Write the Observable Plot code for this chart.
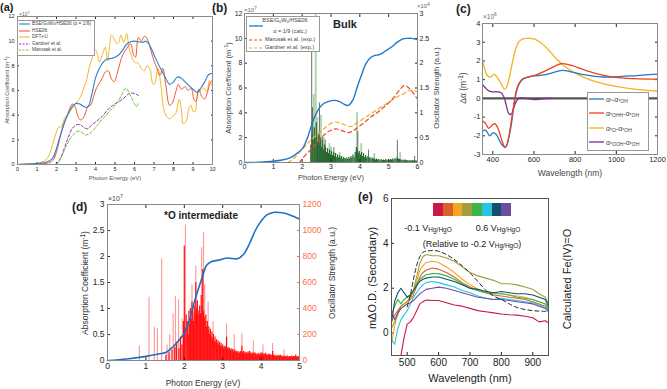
<!DOCTYPE html>
<html><head><meta charset="utf-8">
<script src="https://cdn.jsdelivr.net/npm/d3@7"></script>
<script src="https://cdn.jsdelivr.net/npm/@observablehq/plot@0.6"></script>
<style>
body{margin:0;background:#fff;}
#fig{position:relative;width:667px;height:389px;overflow:hidden;font-family:"Liberation Sans",Arial,sans-serif;color:#222;}
.t{position:absolute;white-space:nowrap;line-height:1;}
.t sub{font-size:0.72em;vertical-align:-0.25em;line-height:0;}
.t sup{font-size:0.75em;vertical-align:0.5em;line-height:0;}
.box{position:absolute;background:#fff;border:1px solid #999;}
</style>
</head><body><div id="fig"></div>
<script>
// ---------- DATA ----------
// (a) absorption coefficient (x1e7 m^-1) vs photon energy (eV)
const aBSE = [[0,0],[0.5,0.03],[1,0.08],[1.5,0.2],[1.8,0.5],[2.0,1.3],[2.2,2.4],[2.4,3.4],[2.6,4.1],[2.8,4.7],[3.0,4.95],[3.2,4.9],[3.4,4.7],[3.6,4.65],[3.8,5.6],[4.0,7.0],[4.2,7.8],[4.4,8.3],[4.6,8.55],[4.8,8.6],[5.0,8.7],[5.2,8.9],[5.4,9.3],[5.6,9.75],[5.8,9.95],[6.0,10.0],[6.2,9.95],[6.4,9.9],[6.6,10.0],[6.8,9.6],[7.0,8.9],[7.2,8.2],[7.4,7.6],[7.6,7.0],[7.8,6.5],[8.0,6.7],[8.2,7.1],[8.4,7.0],[8.6,6.7],[8.8,6.4],[9.0,6.1],[9.2,5.85],[9.4,6.2],[9.6,6.7],[9.8,7.3],[10,7.4]];
const aHSE = [[0,0],[1,0.05],[1.5,0.1],[1.8,0.3],[2.0,1.0],[2.2,2.3],[2.4,3.3],[2.6,4.2],[2.8,4.9],[2.95,4.7],[3.1,3.9],[3.25,3.6],[3.45,4.0],[3.6,4.7],[3.75,4.8],[3.9,5.5],[4.05,6.2],[4.2,6.6],[4.35,7.0],[4.5,7.5],[4.65,7.6],[4.8,7.0],[4.95,6.7],[5.1,7.3],[5.25,8.2],[5.4,8.9],[5.6,9.4],[5.8,9.8],[5.95,8.9],[6.05,8.7],[6.2,10.3],[6.35,10.0],[6.5,10.4],[6.65,10.2],[6.85,9.2],[7.0,8.4],[7.15,7.8],[7.3,7.2],[7.45,7.8],[7.6,6.5],[7.8,4.8],[7.95,5.0],[8.1,5.8],[8.25,6.5],[8.4,6.1],[8.6,6.3],[8.75,6.0],[8.9,6.2],[9.05,5.3],[9.15,5.1],[9.3,6.1],[9.45,5.5],[9.6,5.3],[9.75,5.9],[9.9,6.7],[10,6.8]];
const aDFT = [[0,0],[0.5,0.05],[1,0.1],[1.4,0.3],[1.6,0.7],[1.8,1.6],[1.95,2.4],[2.1,3.0],[2.25,3.1],[2.4,3.7],[2.55,4.0],[2.7,4.3],[2.9,4.8],[3.05,5.1],[3.2,5.4],[3.4,6.2],[3.55,6.9],[3.7,8.0],[3.85,8.7],[4.0,9.3],[4.1,8.9],[4.2,8.3],[4.35,8.9],[4.5,9.5],[4.62,8.4],[4.72,9.6],[4.82,10.5],[4.95,10.2],[5.1,9.8],[5.2,9.9],[5.3,10.5],[5.45,9.9],[5.6,10.6],[5.7,9.6],[5.85,8.8],[6.0,8.3],[6.2,8.2],[6.35,7.8],[6.5,7.6],[6.65,8.0],[6.8,7.7],[6.95,6.5],[7.05,6.6],[7.2,7.8],[7.35,6.5],[7.5,4.5],[7.65,3.9],[7.8,3.7],[7.95,3.9],[8.1,4.1],[8.3,5.3],[8.4,4.5],[8.5,3.3],[8.65,3.5],[8.8,4.6],[8.9,4.8],[9.0,4.3],[9.1,4.3],[9.25,5.8],[9.4,6.0],[9.55,6.2],[9.7,5.9],[9.85,6.8],[10,6.3]];
const aGardner = [[2.0,0],[2.2,0.5],[2.4,1.3],[2.6,2.2],[2.8,2.9],[3.0,3.2],[3.2,3.25],[3.4,3.0],[3.6,2.9],[3.8,3.2],[4.0,3.45],[4.2,3.7],[4.4,4.0],[4.6,4.4],[4.8,4.7],[5.0,4.9],[5.2,5.1],[5.4,5.3],[5.6,5.6],[5.8,5.8],[6.0,5.75],[6.2,5.6]];
const aMarusak = [[1.9,0],[2.1,0.2],[2.3,0.8],[2.5,1.5],[2.7,2.1],[2.9,2.5],[3.1,2.7],[3.3,2.6],[3.5,2.4],[3.7,2.5],[3.9,2.8],[4.1,3.2],[4.3,3.6],[4.5,3.9],[4.7,4.3],[4.9,4.6],[5.1,5.0],[5.3,5.5],[5.45,6.0],[5.55,6.2],[5.7,5.9],[5.85,5.4],[6.0,4.9],[6.1,4.7],[6.2,5.0]];

// (b) bulk: absorption (x1e7) and oscillator strength (x1e4)
const bBSE = [[0,0],[0.5,0.02],[1.0,0.1],[1.3,0.2],[1.6,0.4],[1.8,0.7],[2.0,1.1],[2.1,1.5],[2.2,2.1],[2.3,2.8],[2.4,3.5],[2.5,4.0],[2.6,4.4],[2.75,4.75],[2.9,4.9],[3.1,5.0],[3.3,4.9],[3.45,4.7],[3.6,4.6],[3.75,5.0],[3.9,6.0],[4.05,7.0],[4.2,7.9],[4.35,8.4],[4.5,8.6],[4.7,8.7],[4.9,9.0],[5.1,9.3],[5.3,9.7],[5.5,9.95],[5.65,10.0],[5.8,10.0],[6.0,9.9]];
const bMarusak = [[1.9,0],[2.0,0.3],[2.2,0.8],[2.4,1.3],[2.6,1.8],[2.8,2.3],[3.0,2.6],[3.2,2.7],[3.4,2.55],[3.6,2.4],[3.8,2.6],[4.0,2.95],[4.2,3.3],[4.4,3.7],[4.6,4.0],[4.8,4.4],[5.0,4.8],[5.2,5.3],[5.4,5.9],[5.55,6.2],[5.7,6.0],[5.85,5.6],[6.0,5.1]];
const bGardner = [[1.5,0],[1.7,0.3],[1.9,0.8],[2.1,1.3],[2.3,1.8],[2.5,2.2],[2.7,2.6],[2.9,3.0],[3.1,3.25],[3.3,3.2],[3.5,3.0],[3.7,2.9],[3.9,3.2],[4.1,3.5],[4.3,3.8],[4.5,4.1],[4.7,4.4],[4.9,4.7],[5.1,5.0],[5.3,5.3],[5.5,5.5],[5.7,5.8],[5.85,5.8],[6.0,5.7]];
const bOscDense = [[2.30,.35],[2.34,.6],[2.38,.45],[2.42,.7],[2.45,.5],[2.49,.8],[2.53,.4],[2.56,.55],[2.6,.35],[2.63,.5],[2.67,.3],[2.7,.45],[2.74,.25],[2.77,.35],[2.81,.3],[2.84,.2],[2.88,.28],[2.91,.18],[2.95,.25],[2.98,.15],[3.02,.22],[3.05,.14],[3.09,.2],[3.12,.12],[3.16,.18],[3.2,.1],[3.23,.15],[3.27,.09],[3.3,.13],[3.34,.08],[3.37,.12],[3.41,.07],[3.44,.1],[3.48,.08],[3.51,.06],[3.55,.09],[3.58,.06],[3.62,.1],[3.65,.07],[3.69,.12],[3.72,.08],[3.76,.15],[3.8,.1],[3.84,.2],[3.88,.3],[3.91,.25],[3.95,.18],[3.98,.22],[4.02,.15],[4.06,.2],[4.1,.12],[4.13,.18],[4.17,.1],[4.2,.14],[4.24,.09],[4.28,.12],[4.32,.08],[4.35,.1],[4.39,.07],[4.43,.09],[4.47,.06],[4.5,.08],[4.54,.05],[4.58,.07],[4.62,.05],[4.66,.06],[4.7,.04],[4.74,.06],[4.78,.04],[4.82,.05],[4.86,.04],[4.9,.06],[4.94,.04],[4.98,.05],[5.02,.04],[5.06,.06],[5.1,.05],[5.14,.07],[5.18,.05],[5.22,.08],[5.26,.06],[5.3,.1],[5.34,.07],[5.38,.06],[5.42,.05],[5.46,.04],[5.5,.05],[5.54,.04],[5.58,.05],[5.62,.03],[5.66,.04],[5.7,.03],[5.74,.04],[5.78,.03],[5.82,.04],[5.86,.03],[5.9,.04],[5.94,.03],[5.98,.03]];
const bOscLight = [[2.40,1.37],[2.47,3.0],[2.52,0.9],[2.56,0.6],[2.65,0.95],[2.75,0.5],[2.95,0.38],[3.0,0.3],[3.3,0.2],[3.9,1.0],[4.05,0.38],[4.5,0.18],[5.4,0.2]];
const bOscGray = [[2.33,2.22],[2.36,1.1],[2.6,1.2],[2.7,0.5],[2.8,0.45],[3.1,0.3],[3.93,0.62],[4.3,0.25],[5.3,0.45],[5.9,0.12]];

// (c) difference absorption (x1e6 m^-1) vs wavelength (nm)
const cStar = [[350,-1.75],[365,-1.7],[385,-2.0],[400,-1.85],[415,-1.9],[430,-2.2],[445,-2.5],[460,-2.62],[470,-2.45],[480,-2.0],[490,-1.4],[500,-0.6],[510,0.1],[520,0.55],[535,0.9],[550,1.05],[575,1.15],[600,1.2],[650,1.25],[700,1.4],[740,1.5],[780,1.42],[850,1.25],[920,1.15],[1000,1.15],[1100,1.22],[1200,1.3]];
const cOHH = [[350,-1.2],[365,-1.35],[380,-1.6],[395,-1.45],[410,-1.35],[425,-1.6],[440,-2.1],[455,-2.55],[462,-2.6],[475,-2.2],[490,-1.2],[500,-0.5],[510,0.2],[525,0.75],[545,1.05],[575,1.15],[620,1.3],[680,1.6],[730,1.85],[770,1.8],[850,1.5],[950,1.2],[1050,1.07],[1200,1.03]];
const cO = [[350,2.05],[360,1.6],[375,1.2],[390,1.15],[405,1.3],[420,1.15],[440,0.8],[455,0.5],[465,0.55],[480,1.1],[495,1.9],[510,2.6],[525,3.0],[545,3.18],[570,3.2],[600,3.18],[630,3.0],[670,2.6],[710,2.1],[750,1.7],[800,1.35],[870,1.0],[950,0.75],[1050,0.55],[1200,0.38]];
const cOOH = [[350,0.75],[365,0.55],[380,0.4],[400,0.35],[420,0.35],[440,0.3],[455,0.05],[465,-0.35],[478,-0.82],[490,-0.85],[500,-0.55],[515,-0.15],[530,0.02],[560,0.0],[600,-0.07],[640,-0.03],[680,0]];

// (d) *O intermediate: absorption (x1e7) and oscillator strength (a.u.)
const dBSE = [[0,0],[0.5,0.03],[1.0,0.08],[1.3,0.12],[1.53,0.16],[1.7,0.26],[1.85,0.38],[2.0,0.52],[2.1,0.7],[2.2,0.95],[2.3,1.22],[2.4,1.45],[2.5,1.68],[2.58,1.83],[2.7,1.9],[2.9,1.93],[3.1,1.97],[3.4,1.96],[3.55,2.05],[3.7,2.25],[3.85,2.5],[4.0,2.68],[4.15,2.8],[4.35,2.85],[4.55,2.84],[4.75,2.8],[5,2.72]];
const dOscLight = [[0.83,110],[1.08,487],[1.22,256],[1.3,244],[1.41,782],[1.55,120],[1.62,200],[1.71,360],[1.77,492],[1.85,467],[1.95,320],[2.03,1043],[2.2,582],[2.3,725],[2.45,867],[2.5,982],[2.53,580],[2.62,450],[2.75,300],[3.1,282],[3.3,200],[3.5,205],[3.8,150],[4.05,120],[4.3,130],[4.6,80]];
const dOscDense = [[1.52,40],[1.6,60],[1.68,80],[1.75,100],[1.8,140],[1.86,90],[1.9,180],[1.94,120],[1.98,300],[2.0,880],[2.02,250],[2.05,350],[2.08,300],[2.1,200],[2.12,380],[2.14,280],[2.16,400],[2.18,320],[2.2,450],[2.22,380],[2.24,300],[2.26,420],[2.28,360],[2.3,600],[2.32,400],[2.34,460],[2.36,380],[2.38,350],[2.4,420],[2.42,360],[2.44,500],[2.46,420],[2.48,700],[2.5,380],[2.52,330],[2.54,300],[2.56,350],[2.58,260],[2.6,300],[2.62,230],[2.64,260],[2.66,200],[2.68,240],[2.7,180],[2.72,220],[2.74,170],[2.76,200],[2.78,150],[2.8,180],[2.82,140],[2.84,160],[2.86,130],[2.88,150],[2.9,120],[2.92,140],[2.94,110],[2.96,130],[2.98,100],[3.0,120],[3.02,95],[3.04,110],[3.06,90],[3.08,105],[3.1,180],[3.12,90],[3.14,100],[3.16,80],[3.18,95],[3.2,75],[3.22,90],[3.24,70],[3.26,85],[3.28,65],[3.3,80],[3.32,60],[3.34,75],[3.36,60],[3.38,70],[3.4,55],[3.42,65],[3.44,55],[3.46,70],[3.48,60],[3.5,110],[3.52,60],[3.54,70],[3.56,55],[3.58,65],[3.6,50],[3.62,60],[3.64,50],[3.66,65],[3.68,55],[3.7,70],[3.72,50],[3.74,60],[3.76,45],[3.78,55],[3.8,50],[3.82,60],[3.84,45],[3.86,55],[3.88,40],[3.9,50],[3.92,45],[3.94,55],[3.96,40],[3.98,50],[4.0,60],[4.02,45],[4.04,55],[4.06,40],[4.08,50],[4.1,45],[4.12,55],[4.14,40],[4.16,45],[4.18,35],[4.2,50],[4.22,40],[4.24,45],[4.26,35],[4.28,40],[4.3,70],[4.32,40],[4.34,35],[4.36,40],[4.38,30],[4.4,35],[4.42,30],[4.44,40],[4.46,30],[4.48,35],[4.5,40],[4.52,30],[4.54,35],[4.56,25],[4.58,30],[4.6,35],[4.62,25],[4.64,30],[4.66,25],[4.68,35],[4.7,30],[4.72,25],[4.74,30],[4.76,25],[4.78,30],[4.8,35],[4.82,25],[4.84,30],[4.86,25],[4.88,30],[4.9,40],[4.92,25],[4.94,30],[4.96,25],[4.98,30]];

// (e) mΔO.D. vs wavelength at potentials -0.1 ... 0.6 V
const eWl = [450,460,470,480,490,500,510,520,530,540,550,560,580,600,625,650,675,700,725,750,775,800,825,850,875,900,920,940,950];
const ePotentials = ["-0.1","0","0.1","0.2","0.3","0.4","0.5","0.6"];
const eColors = ["#c8194b","#d9622b","#f4a623","#a39e3b","#3bb54a","#27c4df","#10506e","#6d4fa1"];
const eSeries = [
  [null,null,-1.3,-1.0,-0.2,0.4,0.5,0.7,1.0,1.3,1.4,1.47,1.45,1.45,1.35,1.25,1.2,1.1,1.0,0.95,0.9,0.85,0.82,0.8,0.75,0.68,0.5,0.55,0.45],
  [0.5,0.8,1.0,1.2,1.3,1.4,1.5,1.7,2.1,2.5,2.7,2.8,2.9,2.85,2.7,2.5,2.25,2.05,1.9,1.8,1.7,1.65,1.6,1.55,1.5,1.4,1.3,1.2,1.05],
  [-0.5,0.3,0.9,1.1,1.2,1.3,1.5,1.8,2.3,2.8,3.0,3.15,3.2,3.15,2.95,2.7,2.4,2.15,1.95,1.85,1.8,1.75,1.7,1.65,1.6,1.5,1.4,1.3,1.15],
  [0.2,0.5,0.8,1.2,1.3,1.4,1.6,1.9,2.5,3.1,3.4,3.5,3.45,3.45,3.35,3.2,2.95,2.7,2.55,2.45,2.35,2.2,2.2,2.15,2.05,1.95,1.75,1.6,1.3],
  [0.8,1.2,1.5,1.3,1.5,1.6,1.7,1.9,2.2,2.4,2.5,2.6,2.65,2.65,2.55,2.4,2.2,2.0,1.9,1.8,1.75,1.75,1.7,1.6,1.55,1.5,1.4,1.3,1.1],
  [-0.3,-0.5,0.2,0.6,0.8,1.0,1.3,1.6,1.8,2.0,2.15,2.25,2.3,2.25,2.15,2.05,1.9,1.8,1.65,1.55,1.5,1.55,1.5,1.45,1.4,1.35,1.25,1.15,1.0],
  [0.5,1.4,1.8,2.0,1.8,1.6,1.7,1.9,2.1,2.3,2.4,2.45,2.5,2.5,2.4,2.3,2.15,2.0,1.95,1.85,1.8,1.85,1.8,1.75,1.75,1.7,1.6,1.5,1.2],
  [1.0,0.6,0.9,1.1,1.2,1.3,1.35,1.45,1.6,1.75,1.85,1.95,2.0,2.05,2.0,1.9,1.8,1.7,1.6,1.55,1.5,1.5,1.45,1.4,1.35,1.3,1.2,1.1,0.95]
];
const eCalc = [[500,1.17],[510,1.7],[520,2.4],[530,3.0],[540,3.4],[550,3.6],[560,3.65],[580,3.68],[600,3.65],[625,3.5],[650,3.28],[675,3.0],[700,2.68],[725,2.3],[750,1.92],[775,1.65],[800,1.5],[825,1.3],[850,1.14],[875,1.05],[900,1.0],[920,0.98],[940,0.97],[950,0.95]];

// ---------- HELPERS ----------
const fig = document.getElementById("fig");
const FONT = "Liberation Sans, Arial, Helvetica, sans-serif";
function panel(box, pad, opts) {
  const [x1,y1,x2,y2] = box, [l,t,r,b] = pad;
  const svg = Plot.plot({
    width: (x2-x1)+l+r, height: (y2-y1)+t+b,
    marginLeft:l, marginTop:t, marginRight:r, marginBottom:b,
    ...opts,
    style: {background:"transparent", overflow:"visible", fontFamily:FONT, color:"#262626", ...(opts.style||{})}
  });
  svg.style.position="absolute"; svg.style.left=(x1-l)+"px"; svg.style.top=(y1-t)+"px";
  fig.appendChild(svg);
}
function txt(html, x, y, o={}) {
  const d = document.createElement("div");
  d.className="t"; d.innerHTML=html;
  d.style.left=x+"px"; d.style.top=y+"px";
  d.style.fontSize=(o.size||8)+"px";
  if (o.bold) d.style.fontWeight="bold";
  d.style.color=o.color||"#222";
  const ax = o.anchor==="start"?"0":o.anchor==="end"?"-100%":"-50%";
  d.style.transform=`translate(${ax},-50%)`+(o.rot?" rotate(-90deg)":"");
  fig.appendChild(d);
}
function box(x,y,w,h){const d=document.createElement("div");d.className="box";Object.assign(d.style,{left:x+"px",top:y+"px",width:w+"px",height:h+"px"});fig.appendChild(d);}
function swatch(x1,x2,y,color,dash,w){
  const s=document.createElementNS("http://www.w3.org/2000/svg","svg");
  s.setAttribute("width",x2-x1);s.setAttribute("height",4);
  Object.assign(s.style,{position:"absolute",left:x1+"px",top:(y-2)+"px"});
  s.innerHTML=`<line x1="0" x2="${x2-x1}" y1="2" y2="2" stroke="${color}" stroke-width="${w||1.2}" ${dash?`stroke-dasharray="${dash}"`:""}/>`;
  fig.appendChild(s);
}
const X = d=>d[0], Y = d=>d[1];
const plain = d=>String(d);
function mirror(xt, yt, ts) {
  return [
    Plot.axisX(xt,{anchor:"top",tickSize:ts,tickFormat:()=>"",label:null}),
    Plot.axisY(yt,{anchor:"right",tickSize:ts,tickFormat:()=>"",label:null})
  ];
}

// ---------- (a) ----------
{
  const xt=d3.range(0,11), yt=d3.range(0,13,2);
  panel([17,16,212,164],[14,8,8,14],{
    x:{domain:[0,10]}, y:{domain:[0,12]}, style:{fontSize:"5.5px"},
    marks:[
      Plot.axisX(xt,{tickSize:-2,tickPadding:5,label:null,tickFormat:plain}),
      Plot.axisY(yt,{tickSize:-2,tickPadding:5,label:null,tickFormat:plain}),
      ...mirror(xt,yt,-2),
      Plot.line(aGardner,{x:X,y:Y,stroke:"#9b2fae",strokeWidth:1,strokeDasharray:"3,2",curve:"catmull-rom"}),
      Plot.line(aMarusak,{x:X,y:Y,stroke:"#6abf2e",strokeWidth:1,strokeDasharray:"3,2",curve:"catmull-rom"}),
      Plot.line(aDFT,{x:X,y:Y,stroke:"#f7b52c",strokeWidth:1,curve:"catmull-rom"}),
      Plot.line(aHSE,{x:X,y:Y,stroke:"#ef5a33",strokeWidth:1,curve:"catmull-rom"}),
      Plot.line(aBSE,{x:X,y:Y,stroke:"#2e7fd1",strokeWidth:1.1,curve:"catmull-rom"}),
      Plot.frame({stroke:"#8a8a8a"})
    ]
  });
  txt("(a)",0,7,{size:11,bold:true,anchor:"start"});
  txt("×10<sup>7</sup>",19,13.5,{size:5,anchor:"start",color:"#666"});
  txt("Absorption Coefficient (m<sup>-1</sup>)",8,90,{size:5.5,rot:true,color:"#555"});
  txt("Photon Energy (eV)",115,178,{size:6,color:"#555"});
  box(17,20,76,34);
  const L=[["BSE/G<sub>0</sub>W<sub>0</sub>/HSE06 (α = 1/9)","#2e7fd1",null],["HSE06","#ef5a33",null],["DFT+U","#f7b52c",null],["Gardner et al.","#9b2fae","2,1.5"],["Marusak et al.","#6abf2e","2,1.5"]];
  L.forEach(([s,c,da],i)=>{const y=24+i*6.6; swatch(19,30,y,c,da,1.1); txt(s,32,y,{size:4.8,anchor:"start",color:"#444"});});
}

// ---------- (b) ----------
{
  const xt=d3.range(0,7), yt=d3.range(0,13,2), rt=[0,0.5,1,1.5,2,2.5,3];
  panel([244,13,417,162],[16,6,18,14],{
    x:{domain:[0,6]}, y:{domain:[0,12]}, style:{fontSize:"7px"},
    marks:[
      Plot.ruleX(bOscLight,{x:X,y1:0,y2:d=>d[1]*4,stroke:"#8cc48c",strokeWidth:2,strokeOpacity:0.7,clip:true}),
      Plot.ruleX(bOscDense,{x:X,y1:0,y2:d=>d[1]*4,stroke:"#1f6b27",strokeWidth:1.2,clip:true}),
      Plot.ruleX(bOscGray,{x:X,y1:0,y2:d=>d[1]*4,stroke:"#555",strokeWidth:1,strokeOpacity:0.85,clip:true}),
      Plot.axisX(xt,{tickSize:-3,tickPadding:5,label:null,tickFormat:plain}),
      Plot.axisY(yt,{tickSize:-3,tickPadding:5,label:null,tickFormat:plain}),
      Plot.axisX(xt,{anchor:"top",tickSize:-3,tickFormat:()=>"",label:null}),
      Plot.axisY(rt,{y:d=>d*4,anchor:"right",tickSize:-3,tickPadding:5,tickFormat:plain,label:null}),
      Plot.line(bGardner,{x:X,y:Y,stroke:"#f7a928",strokeWidth:1.2,strokeDasharray:"4,3",curve:"catmull-rom"}),
      Plot.line(bMarusak,{x:X,y:Y,stroke:"#ef4a24",strokeWidth:1.2,strokeDasharray:"4,3",curve:"catmull-rom"}),
      Plot.line(bBSE,{x:X,y:Y,stroke:"#1f78c8",strokeWidth:1.4,curve:"catmull-rom"}),
      Plot.frame({stroke:"#8a8a8a"})
    ]
  });
  txt("(b)",212,8,{size:12,bold:true,anchor:"start"});
  txt("×10<sup>7</sup>",244,10,{size:6,anchor:"start",color:"#666"});
  txt("×10<sup>4</sup>",417,6,{size:6,anchor:"start",color:"#666"});
  txt("Absorption Coefficient (m<sup>-1</sup>)",229,88,{size:7.5,rot:true,color:"#444"});
  txt("Oscillator Strength (a.u.)",437,88,{size:7.5,rot:true,color:"#444"});
  txt("Photon Energy (eV)",331,178,{size:7.5,color:"#444"});
  txt("Bulk",345,24,{size:11,bold:true});
  box(246,16,72,34);
  swatch(249,263,26,"#1f78c8",null,1.3);
  txt("BSE/G<sub>0</sub>W<sub>0</sub>/HSE06",285,21,{size:5.5,color:"#444"});
  txt("α = 1/9 (calc.)",290,32,{size:5.5,color:"#444"});
  swatch(249,263,40,"#ef4a24","3,2",1.2);
  txt("Marusak et al. (exp.)",265,40,{size:5.5,anchor:"start",color:"#444"});
  swatch(249,263,48,"#f7a928","3,2",1.2);
  txt("Gardner et al. (exp.)",265,48,{size:5.5,anchor:"start",color:"#444"});
}

// ---------- (c) ----------
{
  const xt=[400,600,800,1000,1200], yt=d3.range(-3,5);
  panel([482,23,657,154],[16,8,8,14],{
    x:{domain:[350,1200]}, y:{domain:[-3,4]}, style:{fontSize:"7.5px"},
    marks:[
      Plot.axisX(xt,{tickSize:-3,tickPadding:5,label:null,tickFormat:plain}),
      Plot.axisY(yt,{tickSize:-3,tickPadding:5,label:null,tickFormat:plain}),
      ...mirror(xt,yt,-3),
      Plot.ruleY([0],{stroke:"#555",strokeWidth:2.2}),
      Plot.line(cOOH,{x:X,y:Y,stroke:"#7e2f8e",strokeWidth:1.3,curve:"catmull-rom"}),
      Plot.line(cO,{x:X,y:Y,stroke:"#f5b121",strokeWidth:1.3,curve:"catmull-rom"}),
      Plot.line(cStar,{x:X,y:Y,stroke:"#1f78c8",strokeWidth:1.3,curve:"catmull-rom"}),
      Plot.line(cOHH,{x:X,y:Y,stroke:"#f2401d",strokeWidth:1.3,curve:"catmull-rom"}),
      Plot.frame({stroke:"#8a8a8a"})
    ]
  });
  txt("(c)",456,9,{size:12,bold:true,anchor:"start"});
  txt("×10<sup>6</sup>",483,17,{size:6.5,anchor:"start",color:"#666"});
  txt("Δα (m<sup>-1</sup>)",463,88,{size:8.5,rot:true,color:"#444"});
  txt("Wavelength (nm)",570,173,{size:8.5,color:"#444"});
  box(587,92,60,57);
  const L=[["α<sub>*</sub>-α<sub>*OH</sub>","#1f78c8"],["α<sub>*OHH</sub>-α<sub>*OH</sub>","#f2401d"],["α<sub>*O</sub>-α<sub>*OH</sub>","#f5b121"],["α<sub>*OOH</sub>-α<sub>*OH</sub>","#7e2f8e"]];
  L.forEach(([s,c],i)=>{const y=99+i*14.3; swatch(589,604,y,c,null,1.3); txt(s,606,y,{size:7,anchor:"start",color:"#444"});});
}

// ---------- (d) ----------
{
  const xt=d3.range(0,6), yt=[0,0.5,1,1.5,2,2.5,3], rt=d3.range(0,1201,200);
  const OR="#ff6d3f";
  panel([107,204,299,360],[18,8,26,16],{
    x:{domain:[0,5]}, y:{domain:[0,3]}, style:{fontSize:"8.5px"},
    marks:[
      Plot.ruleX(dOscLight,{x:X,y1:0,y2:d=>d[1]/400,stroke:"#ff9d9d",strokeWidth:1.2,clip:true}),
      Plot.ruleX(dOscDense,{x:X,y1:0,y2:d=>d[1]/400,stroke:"#ff1010",strokeWidth:1.2,clip:true}),
      Plot.axisX(xt,{tickSize:-3,tickPadding:5,label:null,tickFormat:plain}),
      Plot.axisY(yt,{tickSize:-3,tickPadding:6,label:null,tickFormat:plain}),
      Plot.axisX(xt,{anchor:"top",tickSize:-3,tickFormat:()=>"",label:null}),
      Plot.axisY(rt,{y:d=>d/400,anchor:"right",tickSize:-3,tickPadding:6,tickFormat:plain,label:null,color:OR}),
      Plot.line(dBSE,{x:X,y:Y,stroke:"#1f6fc4",strokeWidth:1.6,curve:"catmull-rom"}),
      Plot.frame({stroke:"#8a8a8a"})
    ]
  });
  txt("(d)",72,207,{size:12,bold:true,anchor:"start"});
  txt("×10<sup>7</sup>",108,198,{size:7,anchor:"start",color:"#444"});
  txt("Absorption Coefficient (m<sup>-1</sup>)",85,283,{size:8.5,rot:true,color:"#333"});
  txt("Oscillator Strength (a.u.)",332,273,{size:8.5,rot:true,color:"#333"});
  txt("Photon Energy (eV)",203,383,{size:8.5,color:"#333"});
  txt("*O intermediate",201,216,{size:10,bold:true});
}

// ---------- (e) ----------
{
  const xt=[500,600,700,800,900], yt=[0,2,4,6];
  const rows=[];
  eSeries.forEach((s,k)=>s.forEach((v,i)=>{ if(v!==null) rows.push({wl:eWl[i],v,k}); }));
  panel([391,198,548,355],[18,8,8,14],{
    x:{domain:[450,950]}, y:{domain:[-1,6]}, style:{fontSize:"10px",color:"#222"},
    marks:[
      Plot.axisX(xt,{tickSize:-3,tickPadding:6,label:null,tickFormat:plain}),
      Plot.axisY(yt,{tickSize:-3,tickPadding:6,label:null,tickFormat:plain}),
      Plot.line(rows,{x:"wl",y:"v",z:"k",stroke:d=>eColors[d.k],strokeWidth:1.1,clip:true}),
      Plot.line(eCalc,{x:X,y:Y,stroke:"#222",strokeWidth:1,strokeDasharray:"4,3",curve:"catmull-rom"}),
      Plot.frame({stroke:"#555"})
    ]
  });
  txt("(e)",358,197,{size:12,bold:true,anchor:"start"});
  txt("mΔO.D. (Secondary)",372,278,{size:11,rot:true});
  txt("Wavelength (nm)",470,378,{size:11});
  txt("Calculated Fe(IV)=O",567,279,{size:11,rot:true});
  eColors.forEach((c,i)=>{const d=document.createElement("div");Object.assign(d.style,{position:"absolute",left:(433+i*9.75)+"px",top:"203px",width:"9.9px",height:"13px",background:c});fig.appendChild(d);});
  txt("-0.1 V<sub>Hg/HgO</sub>",428,228,{size:9});
  txt("0.6 V<sub>Hg/HgO</sub>",498,228,{size:9});
  txt("(Relative to -0.2 V<sub>Hg/HgO</sub>)",472,244,{size:9});
}
</script></body></html>
